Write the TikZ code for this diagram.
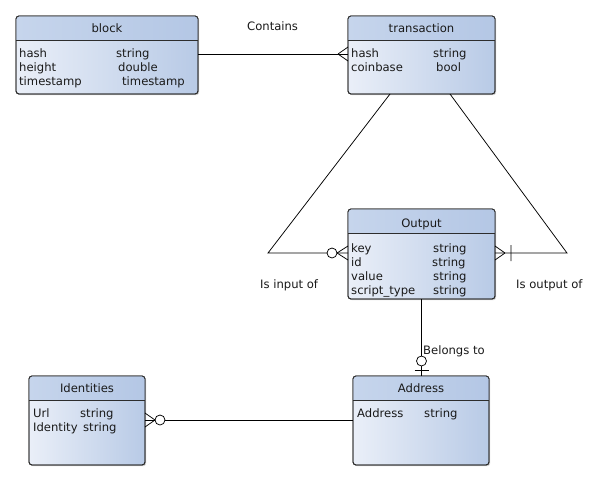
\documentclass[tikz,border=0pt]{standalone}
\usepackage{fontspec}
\setmainfont{DejaVu Sans}
\usetikzlibrary{shadows,calc}
\definecolor{hdrL}{RGB}{198,213,236}
\definecolor{hdrR}{RGB}{180,199,229}
\definecolor{bodyL}{RGB}{234,239,248}
\definecolor{bodyR}{RGB}{184,202,230}
\definecolor{edgec}{RGB}{45,45,45}
\definecolor{txt}{RGB}{25,25,25}
\tikzset{
  entity/.style={draw=edgec, line width=0.9pt, rounded corners=3pt, anchor=north west,
    inner sep=0pt, outer sep=0pt, left color=bodyL, right color=bodyR,
    drop shadow={shadow xshift=1.2pt, shadow yshift=-1.2pt, opacity=0.35}},
  hdrfill/.style={left color=hdrL, right color=hdrR},
  ertext/.style={inner sep=0pt, text=txt, font=\fontsize{11.6}{13}\selectfont},
  attr/.style={ertext, anchor=base west},
  ttl/.style={ertext, anchor=base},
  rel/.style={draw=black, line width=0.75pt},
  lbl/.style={ertext, anchor=base west},
}
\newcommand{\erbox}[6]{%
  \node[entity, minimum width=#4pt, minimum height=#5pt] (#1) at (#2,#3) {};
  \begin{scope}
    \clip[rounded corners=3pt] (#1.north west) rectangle (#1.south east);
    \fill[hdrfill] (#1.north west) rectangle (#1.east |- 0,#6);
  \end{scope}
  \draw[edgec, line width=0.9pt] (#1.west |- 0,#6) -- (#1.east |- 0,#6);
  \draw[edgec, line width=0.9pt, rounded corners=3pt] (#1.north west) rectangle (#1.south east);
}
\begin{document}
\begin{tikzpicture}[x=1pt, y=-1pt]
\useasboundingbox (0,0) rectangle (601,480);
\fill[white] (0,0) rectangle (601,480);

\coordinate (inB) at (268,253);
\coordinate (outB) at (567,253);

% entities
\erbox{block}{16}{16}{182}{78}{40}
\node[ttl] (blockT) at (107,32) {block};
\node[attr] (b1) at (19,57) {hash};
\node[attr] (b1t) at (116,57) {string};
\node[attr] (b2) at (19,71) {height};
\node[attr] (b2t) at (118,71) {double};
\node[attr] (b3) at (19,85) {timestamp};
\node[attr] (b3t) at (122,85) {timestamp};

\erbox{transaction}{348}{16}{147}{78}{40}
\node[ttl] (trT) at (421.5,32) {transaction};
\node[attr] (t1) at (351,57) {hash};
\node[attr] (t1t) at (433,57) {string};
\node[attr] (t2) at (351,71) {coinbase};
\node[attr] (t2t) at (436,71) {bool};

\erbox{Output}{348}{209}{147}{90}{233}
\node[ttl] (outT) at (421.5,227) {Output};
\node[attr] (o1) at (351,252) {key};
\node[attr] (o1t) at (433,252) {string};
\node[attr] (o2) at (351,266) {id};
\node[attr] (o2t) at (432,266) {string};
\node[attr] (o3) at (351,280) {value};
\node[attr] (o3t) at (433,280) {string};
\node[attr] (o4) at (351,294) {script\_type};
\node[attr] (o4t) at (433,294) {string};

\erbox{Identities}{29}{376}{116}{89}{400}
\node[ttl] (idT) at (87,392) {Identities};
\node[attr] (i1) at (33,417) {Url};
\node[attr] (i1t) at (80,417) {string};
\node[attr] (i2) at (33,431) {Identity};
\node[attr] (i2t) at (83,431) {string};

\erbox{Address}{353}{376}{136}{89}{400}
\node[ttl] (adT) at (421,392) {Address};
\node[attr] (a1) at (357,417) {Address};
\node[attr] (a1t) at (424,417) {string};

% labels
\node[lbl] (lContains) at (247,30) {Contains};
\node[lbl] (lIn) at (260,288) {Is input of};
\node[lbl] (lOut) at (516,288) {Is output of};
\node[lbl] (lBel) at (423,354) {Belongs to};

% block -- transaction (many at transaction)
\coordinate (bt) at (0,54);
\draw[rel] (block.east |- bt) -- (transaction.west |- bt);
\draw[rel, shift={(transaction.west |- bt)}] (-10,0) -- (0,-7) (-10,0) -- (0,7);

% transaction -- Output: Is input of (zero or many at Output)
\draw[rel] ([xshift=-31.5pt]transaction.south) -- (inB) -- (Output.west |- inB);
\draw[rel, shift={(Output.west |- inB)}] (-11,0) -- (0,-7) (-11,0) -- (0,7);
\draw[rel, fill=white, shift={(Output.west |- inB)}] (-16,0) circle (5);

% transaction -- Output: Is output of (one or many at Output)
\draw[rel] ([xshift=28.5pt]transaction.south) -- (outB) -- (Output.east |- outB);
\draw[rel, shift={(Output.east |- outB)}] (10,0) -- (0,-7) (10,0) -- (0,7) (16,-8) -- (16,8);

% Output -- Address: Belongs to (zero or one at Address)
\draw[rel] (Output.south) -- (Output.south |- Address.north);
\draw[rel, shift={(Output.south |- Address.north)}] (-7,-6) -- (7,-6);
\draw[rel, fill=white, shift={(Output.south |- Address.north)}] (0,-15) circle (5);

% Identities -- Address (zero or many at Identities)
\coordinate (ia) at (0,420);
\draw[rel] (Identities.east |- ia) -- (Address.west |- ia);
\draw[rel, shift={(Identities.east |- ia)}] (10,0) -- (0,-7) (10,0) -- (0,7);
\draw[rel, fill=white, shift={(Identities.east |- ia)}] (15,0) circle (5);
\end{tikzpicture}
\end{document}
